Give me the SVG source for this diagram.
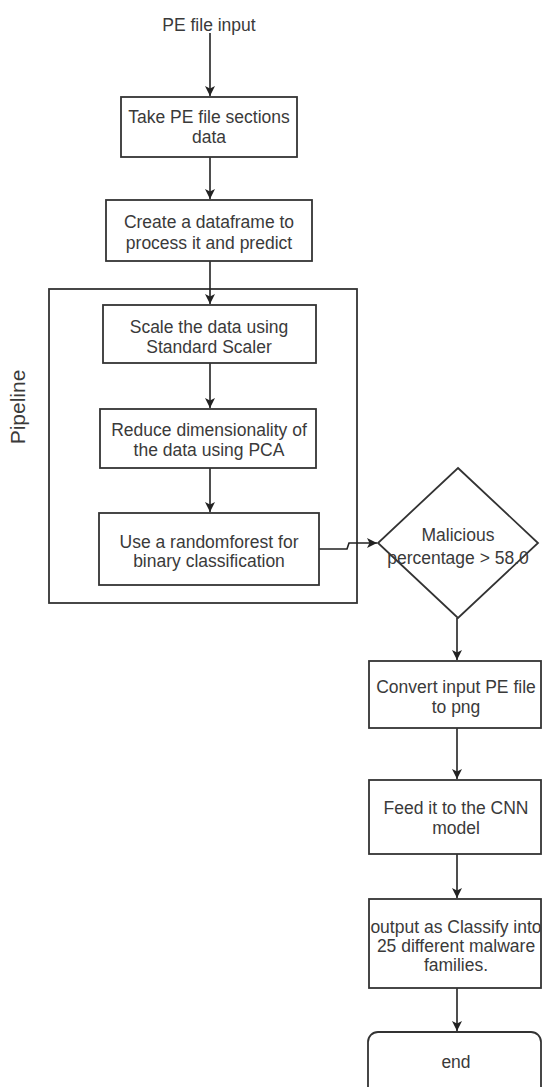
<svg xmlns="http://www.w3.org/2000/svg" width="543" height="1087" viewBox="0 0 543 1087">
<defs>
<marker id="arr" viewBox="0 0 10 10" refX="10" refY="5" markerWidth="10" markerHeight="10" markerUnits="userSpaceOnUse" orient="auto">
<path d="M0,0 L10,5 L0,10 L2.5,5 Z" fill="#222"/>
</marker>
<style>
.box{fill:#fff;stroke:#333;stroke-width:1.8}
.t{font-family:"Liberation Sans",Arial,sans-serif;font-size:17.5px;fill:#3a3a3a;text-anchor:middle}
.e{fill:none;stroke:#222;stroke-width:1.6;marker-end:url(#arr)}
</style>
</defs>
<rect width="543" height="1087" fill="#fff"/>
<g id="pipeline">
<rect x="49" y="289" width="308" height="314" fill="none" stroke="#333" stroke-width="1.8"/>
<text class="t" transform="translate(25,407) rotate(-90)" style="font-size:21px">Pipeline</text>
</g>
<g id="connectors">
<path class="e" d="M210,33 V96"/>
<path class="e" d="M210,157 V199"/>
<path class="e" d="M210,261 V304"/>
<path class="e" d="M210,363 V408"/>
<path class="e" d="M210,468 V512"/>
<path class="e" d="M319,549 H347 L349,543 H377"/>
<path class="e" d="M457,618 V660"/>
<path class="e" d="M457,728 V779"/>
<path class="e" d="M457,854 V898"/>
<path class="e" d="M457,988 V1031"/>
</g>
<g id="start">
<text class="t" x="209" y="31">PE file input</text>
</g>
<g id="take">
<rect class="box" x="121" y="97" width="176" height="60"/>
<text class="t" x="209" y="123">Take PE file sections</text>
<text class="t" x="209" y="143">data</text>
</g>
<g id="dataframe">
<rect class="box" x="106" y="200" width="206" height="61"/>
<text class="t" x="209" y="228">Create a dataframe to</text>
<text class="t" x="209" y="249">process it and predict</text>
</g>
<g id="scale">
<rect class="box" x="103" y="305" width="213" height="58"/>
<text class="t" x="209" y="333">Scale the data using</text>
<text class="t" x="209" y="353">Standard Scaler</text>
</g>
<g id="pca">
<rect class="box" x="100" y="409" width="216" height="59"/>
<text class="t" x="209" y="436">Reduce dimensionality of</text>
<text class="t" x="209" y="456">the data using PCA</text>
</g>
<g id="rf">
<rect class="box" x="99" y="513" width="220" height="72"/>
<text class="t" x="209" y="548">Use a randomforest for</text>
<text class="t" x="209" y="567">binary classification</text>
</g>
<g id="decision">
<path class="box" d="M458,468 L538,543 L458,618 L378,543 Z"/>
<text class="t" x="458" y="541">Malicious</text>
<text class="t" x="458" y="564">percentage &gt; 58.0</text>
</g>
<g id="convert">
<rect class="box" x="369" y="661" width="172" height="67"/>
<text class="t" x="456" y="693">Convert input PE file</text>
<text class="t" x="456" y="713">to png</text>
</g>
<g id="feed">
<rect class="box" x="369" y="780" width="172" height="74"/>
<text class="t" x="456" y="814">Feed it to the CNN</text>
<text class="t" x="456" y="834">model</text>
</g>
<g id="output">
<rect class="box" x="369" y="899" width="172" height="89"/>
<text class="t" x="456" y="933">output as Classify into</text>
<text class="t" x="456" y="952">25 different malware</text>
<text class="t" x="456" y="971">families.</text>
</g>
<g id="end">
<rect class="box" x="368" y="1032" width="173" height="70" rx="10" ry="10"/>
<text class="t" x="456" y="1068">end</text>
</g>
</svg>
